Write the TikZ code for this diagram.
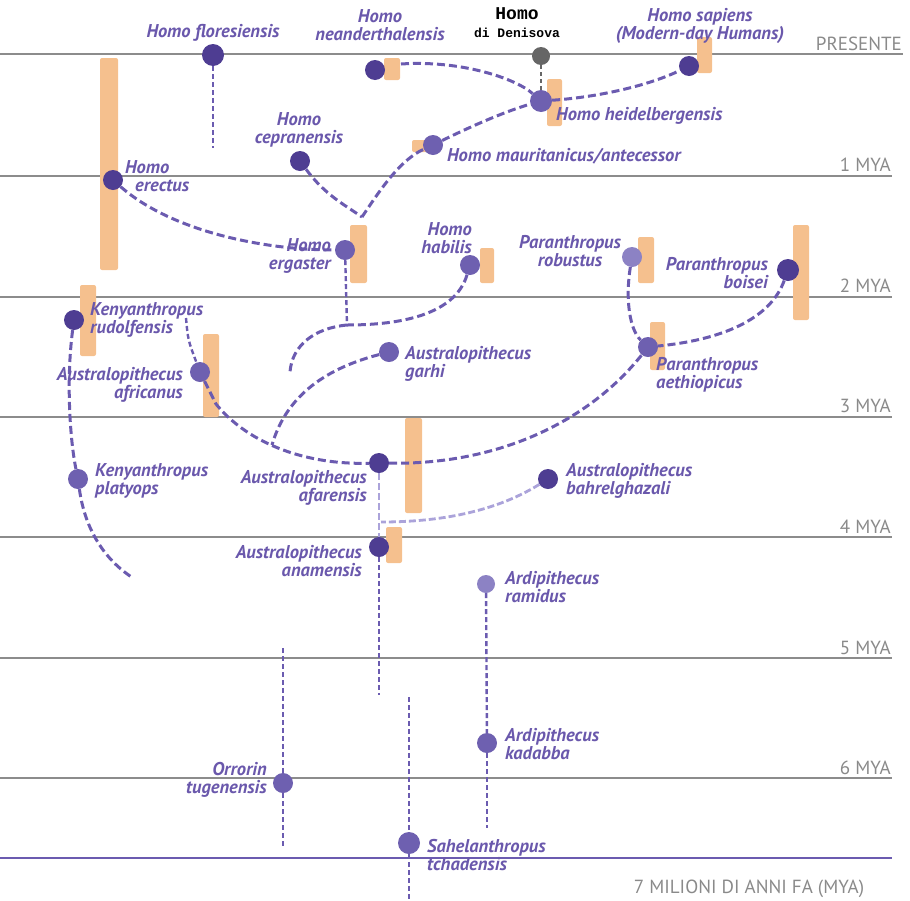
\documentclass[tikz,border=0pt]{standalone}
\usepackage{fontspec}
\newfontfamily\labfont{PT Sans}
\newfontfamily\axfont{PT Sans}
\newfontfamily\handfont{Liberation Mono}
\definecolor{labc}{HTML}{6A58AC}
\definecolor{dotc}{HTML}{4E3D92}
\definecolor{dotmc}{HTML}{6E60B0}
\definecolor{dotlc}{HTML}{8C82C4}
\definecolor{linec}{HTML}{6B5BB0}
\definecolor{lightc}{HTML}{ABA3DA}
\definecolor{barc}{HTML}{F5C08E}
\definecolor{gridc}{HTML}{8C8C8C}
\definecolor{axc}{HTML}{8A8A8A}
\definecolor{denc}{HTML}{666666}
\pgfdeclarelayer{grid}
\pgfdeclarelayer{bars}
\pgfdeclarelayer{lines}
\pgfsetlayers{grid,bars,lines,main}
\tikzset{
  dotd/.style={circle, fill=dotc, minimum size=20, inner sep=0},
  dotm/.style={circle, fill=dotmc, minimum size=20, inner sep=0},
  dotl/.style={circle, fill=dotlc, minimum size=18, inner sep=0},
  dotg/.style={circle, fill=denc, minimum size=18, inner sep=0},
  barfill/.style={fill=barc, rounded corners=2},
  conn/.style={draw=linec, line width=3, dash pattern=on 8 off 4},
  vconn/.style={draw=linec, line width=2.4, dash pattern=on 5 off 3},
  lconn/.style={draw=lightc, line width=2.8, dash pattern=on 7 off 3},
  gconn/.style={draw=denc, line width=1.8, dash pattern=on 4 off 3},
  gridline/.style={draw=gridc, line width=1.4},
  lab/.style={font=\labfont\bfseries\itshape\fontsize{18.5}{18.5}\selectfont, text=labc, inner sep=0},
  axlab/.style={font=\axfont\fontsize{19}{19}\selectfont, text=axc, inner sep=0},
  handlab/.style={font=\handfont\bfseries\fontsize{13}{18}\selectfont, text=black, inner sep=0, align=center},
}
\begin{document}
\begin{tikzpicture}[x=1pt,y=-1pt]
\useasboundingbox (0,0) rectangle (910,900);
% grid
\begin{pgfonlayer}{grid}
\coordinate (g0l) at (0,54);  \coordinate (g0r) at (903,54);
\coordinate (g1l) at (0,176); \coordinate (g1r) at (892,176);
\coordinate (g2l) at (0,297); \coordinate (g2r) at (892,297);
\coordinate (g3l) at (0,417); \coordinate (g3r) at (892,417);
\coordinate (g4l) at (0,537); \coordinate (g4r) at (892,537);
\coordinate (g5l) at (0,658); \coordinate (g5r) at (892,658);
\coordinate (g6l) at (0,778); \coordinate (g6r) at (892,778);
\coordinate (g7l) at (0,858); \coordinate (g7r) at (892,858);
\draw[gridline] (g0l) -- (g0r);
\draw[gridline] (g1l) -- (g1r);
\draw[gridline] (g2l) -- (g2r);
\draw[gridline] (g3l) -- (g3r);
\draw[gridline] (g4l) -- (g4r);
\draw[gridline] (g5l) -- (g5r);
\draw[gridline] (g6l) -- (g6r);
\draw[draw=linec, line width=1.6] (g7l) -- (g7r);
\end{pgfonlayer}
% axis labels
\node[axlab, anchor=base east] (tp) at (902,50) {PRESENTE};
\node[axlab, anchor=base east] (t1) at (891,171) {1 MYA};
\node[axlab, anchor=base east] (t2) at (891,292) {2 MYA};
\node[axlab, anchor=base east] (t3) at (891,412) {3 MYA};
\node[axlab, anchor=base east] (t4) at (891,533) {4 MYA};
\node[axlab, anchor=base east] (t5) at (891,654) {5 MYA};
\node[axlab, anchor=base east] (t6) at (891,774) {6 MYA};
\node[axlab, anchor=base] (t7) at (749,893) {7 MILIONI DI ANNI FA (MYA)};
% bars
\begin{pgfonlayer}{bars}
\path[barfill] (384,58) rectangle (400,80);
\path[barfill] (697,37) rectangle (712,73);
\path[barfill] (547,79) rectangle (562,126);
\path[barfill] (412,140) rectangle (428,152);
\path[barfill] (100,58) rectangle (118,270);
\path[barfill] (350,225) rectangle (367,283);
\path[barfill] (480,248) rectangle (494,283);
\path[barfill] (638,237) rectangle (654,283);
\path[barfill] (793,225) rectangle (809,320);
\path[barfill] (650,322) rectangle (665,370);
\path[barfill] (80,285) rectangle (96,356);
\path[barfill] (203,334) rectangle (219,417);
\path[barfill] (405,418) rectangle (422,513);
\path[barfill] (386,527) rectangle (402,563);
\end{pgfonlayer}
% dots
\node[dotd, minimum size=22] (flo) at (213,55) {};
\node[dotd] (nea) at (375,70) {};
\node[dotg] (den) at (541,56) {};
\node[dotd] (sap) at (689,66) {};
\node[dotm, minimum size=22] (hei) at (541,101) {};
\node[dotm] (mau) at (433,145) {};
\node[dotd] (cep) at (300,161) {};
\node[dotd] (ere) at (113,180) {};
\node[dotm] (erg) at (345,250) {};
\node[dotm] (hab) at (470,265) {};
\node[dotl, minimum size=20] (rob) at (632,257) {};
\node[dotd, minimum size=22] (boi) at (788,270) {};
\node[dotm] (aet) at (648,347) {};
\node[dotm] (gar) at (389,352) {};
\node[dotd] (rud) at (74,320) {};
\node[dotm] (afr) at (200,372) {};
\node[dotd] (afa) at (379,463) {};
\node[dotd] (bah) at (548,479) {};
\node[dotd] (ana) at (379,547) {};
\node[dotm] (pla) at (78,479) {};
\node[dotl] (ram) at (486,584) {};
\node[dotm] (kad) at (487,743) {};
\node[dotm] (orr) at (283,783) {};
\node[dotm, minimum size=22] (sah) at (409,843) {};
% free ends
\coordinate (floE) at (213,148);
\coordinate (neaR) at (401,64);
\coordinate (ergT) at (362,217);
\coordinate (j1) at (347,325);
\coordinate (habE) at (290,372);
\coordinate (garE) at (272,445);
\coordinate (afrT) at (186,318);
\coordinate (afrB) at (216,404);
\coordinate (plaE) at (133,578);
\coordinate (bahE) at (381,522);
\coordinate (anaE) at (379,695);
\coordinate (kadE) at (487,828);
\coordinate (orrT) at (283,648);
\coordinate (orrB) at (283,847);
\coordinate (sahT) at (409,697);
\coordinate (sahB) at (409,900);
% connectors
\begin{pgfonlayer}{lines}
\draw[vconn] (flo) -- (floE);
\draw[conn] (neaR) .. controls (460,60) and (515,78) .. (hei);
\draw[gconn] (den) -- (hei);
\draw[conn] (hei) .. controls (600,97) and (650,85) .. (sap);
\draw[conn] (mau) .. controls (480,122) and (510,110) .. (hei);
\draw[conn] (ergT) .. controls (380,190) and (400,160) .. (mau);
\draw[conn] (cep) .. controls (325,195) and (345,205) .. (ergT);
\draw[conn] (ere) .. controls (170,230) and (260,250) .. (erg);
\draw[vconn] (erg) -- (j1);
\draw[conn] (hab) .. controls (455,315) and (400,325) .. (j1);
\draw[conn] (j1) .. controls (315,328) and (292,345) .. (habE);
\draw[conn] (rob) .. controls (625,300) and (630,330) .. (aet);
\draw[conn] (boi) .. controls (770,320) and (720,340) .. (aet);
\draw[conn] (afa) .. controls (500,465) and (590,420) .. (aet);
\draw[conn] (gar) .. controls (320,370) and (285,400) .. (garE);
\draw[conn] (afr) -- (afrB) .. controls (245,440) and (300,465) .. (afa);
\draw[vconn] (afrT) .. controls (188,340) .. (afr);
\draw[conn] (rud) .. controls (66,380) and (70,440) .. (pla);
\draw[conn] (pla) .. controls (85,530) and (105,560) .. (plaE);
\draw[lconn] (afa) -- (ana);
\draw[lconn] (bah) .. controls (490,515) and (430,522) .. (bahE);
\draw[vconn] (ana) -- (anaE);
\draw[vconn] (ram) -- (kad);
\draw[vconn] (kad) -- (kadE);
\draw[vconn] (orrT) -- (orr) -- (orrB);
\draw[vconn] (sahT) -- (sah) -- (sahB);
\end{pgfonlayer}
% labels
\node[lab] (lflo) at (213,33) {Homo floresiensis};
\node[lab, align=center] (lnea) at (380,25) {Homo\\neanderthalensis};
\node[handlab] (lden) at (517,23) {{\fontsize{18}{18}\selectfont Homo}\\di Denisova};
\node[lab, align=center] (lsap) at (700,26) {Homo sapiens\\(Modern-day Humans)};
\node[lab, anchor=west] (lhei) at (556,116) {Homo heidelbergensis};
\node[lab, anchor=west] (lmau) at (447,156) {Homo mauritanicus/antecessor};
\node[lab, align=center] (lcep) at (299,130) {Homo\\cepranensis};
\node[lab, align=left, anchor=west] (lere) at (125,176) {Homo\\\hspace*{10pt}erectus};
\node[lab, align=right, anchor=east] (lerg) at (331,256) {Homo\\ergaster};
\node[lab, align=right, anchor=east] (lhab) at (472,238) {Homo\\habilis};
\node[lab, align=center] (lrob) at (570,251) {Paranthropus\\robustus};
\node[lab, align=right, anchor=east] (lboi) at (768,273) {Paranthropus\\boisei};
\node[lab, align=left, anchor=west] (laet) at (656,375) {Paranthropus\\aethiopicus};
\node[lab, align=left, anchor=west] (lgar) at (405,364) {Australopithecus\\garhi};
\node[lab, align=left, anchor=west] (lrud) at (90,320) {Kenyanthropus\\rudolfensis};
\node[lab, align=right, anchor=east] (lafr) at (183,385) {Australopithecus\\africanus};
\node[lab, align=right, anchor=east] (lafa) at (367,488) {Australopithecus\\afarensis};
\node[lab, align=left, anchor=west] (lbah) at (566,481) {Australopithecus\\bahrelghazali};
\node[lab, align=right, anchor=east] (lana) at (362,561) {Australopithecus\\anamensis};
\node[lab, align=left, anchor=west] (lpla) at (95,481) {Kenyanthropus\\platyops};
\node[lab, align=left, anchor=west] (lram) at (505,587) {Ardipithecus\\ramidus};
\node[lab, align=left, anchor=west] (lkad) at (505,744) {Ardipithecus\\kadabba};
\node[lab, align=right, anchor=east] (lorr) at (267,780) {Orrorin\\tugenensis};
\node[lab, align=left, anchor=west] (lsah) at (427,855) {Sahelanthropus\\tchadensis};
\end{tikzpicture}
\end{document}
